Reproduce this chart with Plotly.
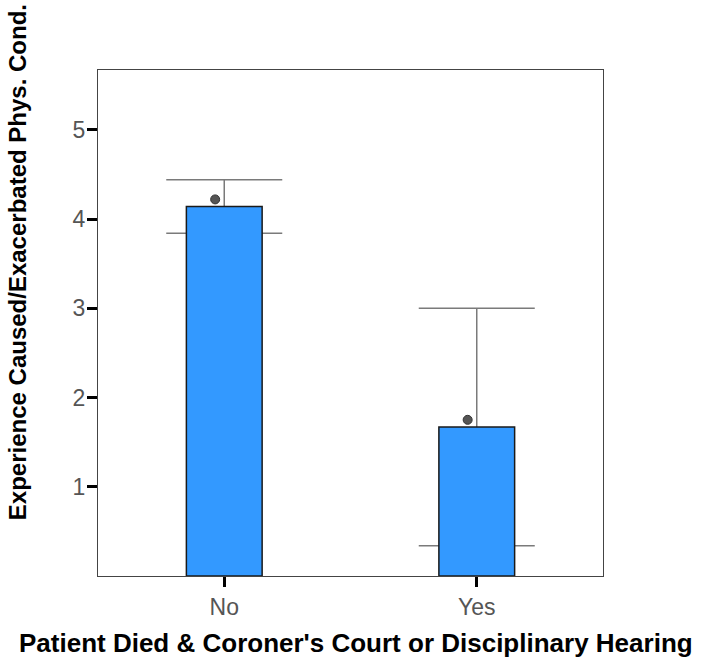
import plotly.graph_objects as go

# Group labels and summary statistics per group
groups = ["No", "Yes"]
bar_means = [4.14, 1.67]
ci_half = [0.30, 1.33]
point_values = [4.22, 1.75]
y_ticks = [1, 2, 3, 4, 5]

x_pos = list(range(len(groups)))
point_x = [p - 0.036 for p in x_pos]

fig = go.Figure()

# Error bars sit behind the bars, so draw them on an empty bar trace first
fig.add_trace(go.Bar(
    x=x_pos, y=bar_means, width=0.30,
    marker=dict(color="rgba(0,0,0,0)", line=dict(width=0)),
    error_y=dict(type="data", array=ci_half, symmetric=True,
                 color="#7a7a7a", thickness=1.5, width=58),
    hoverinfo="skip", showlegend=False,
))

fig.add_trace(go.Bar(
    x=x_pos, y=bar_means, width=0.30,
    marker=dict(color="#3399ff", line=dict(color="#1a1a1a", width=1.5)),
    showlegend=False,
))

fig.add_trace(go.Scatter(
    x=point_x, y=point_values, mode="markers",
    marker=dict(size=9, color="#555555", line=dict(color="#333333", width=1)),
    showlegend=False,
))

fig.update_layout(
    width=705, height=661,
    margin=dict(l=98, r=102, t=70, b=85),
    paper_bgcolor="white", plot_bgcolor="white",
    barmode="overlay",
    font=dict(family="Arial, Liberation Sans, sans-serif"),
    xaxis=dict(
        range=[-0.5, 1.5], tickvals=x_pos, ticktext=groups,
        showgrid=False, zeroline=False,
        showline=True, mirror=True, linecolor="#444444", linewidth=1,
        ticks="outside", ticklen=10, tickwidth=3, tickcolor="black",
        tickfont=dict(size=23, color="#555555"),
    ),
    yaxis=dict(
        range=[0, 5.67], tickvals=y_ticks,
        showgrid=False, zeroline=False,
        showline=True, mirror=True, linecolor="#444444", linewidth=1,
        ticks="outside", ticklen=10, tickwidth=3, tickcolor="black",
        tickfont=dict(size=23, color="#555555"),
        ticklabelstandoff=-3,
    ),
    annotations=[
        dict(text="<b>Experience Caused/Exacerbated Phys. Cond.</b>",
             xref="paper", yref="paper", x=-0.158, y=0.6206,
             xanchor="center", yanchor="middle", textangle=-90,
             showarrow=False, font=dict(size=24, color="black")),
        dict(text="<b>Patient Died & Coroner's Court or Disciplinary Hearing</b>",
             xref="paper", yref="paper", x=0.51, y=-0.1324,
             xanchor="center", yanchor="middle",
             showarrow=False, font=dict(size=26, color="black")),
    ],
)

fig.write_html("out.html")
